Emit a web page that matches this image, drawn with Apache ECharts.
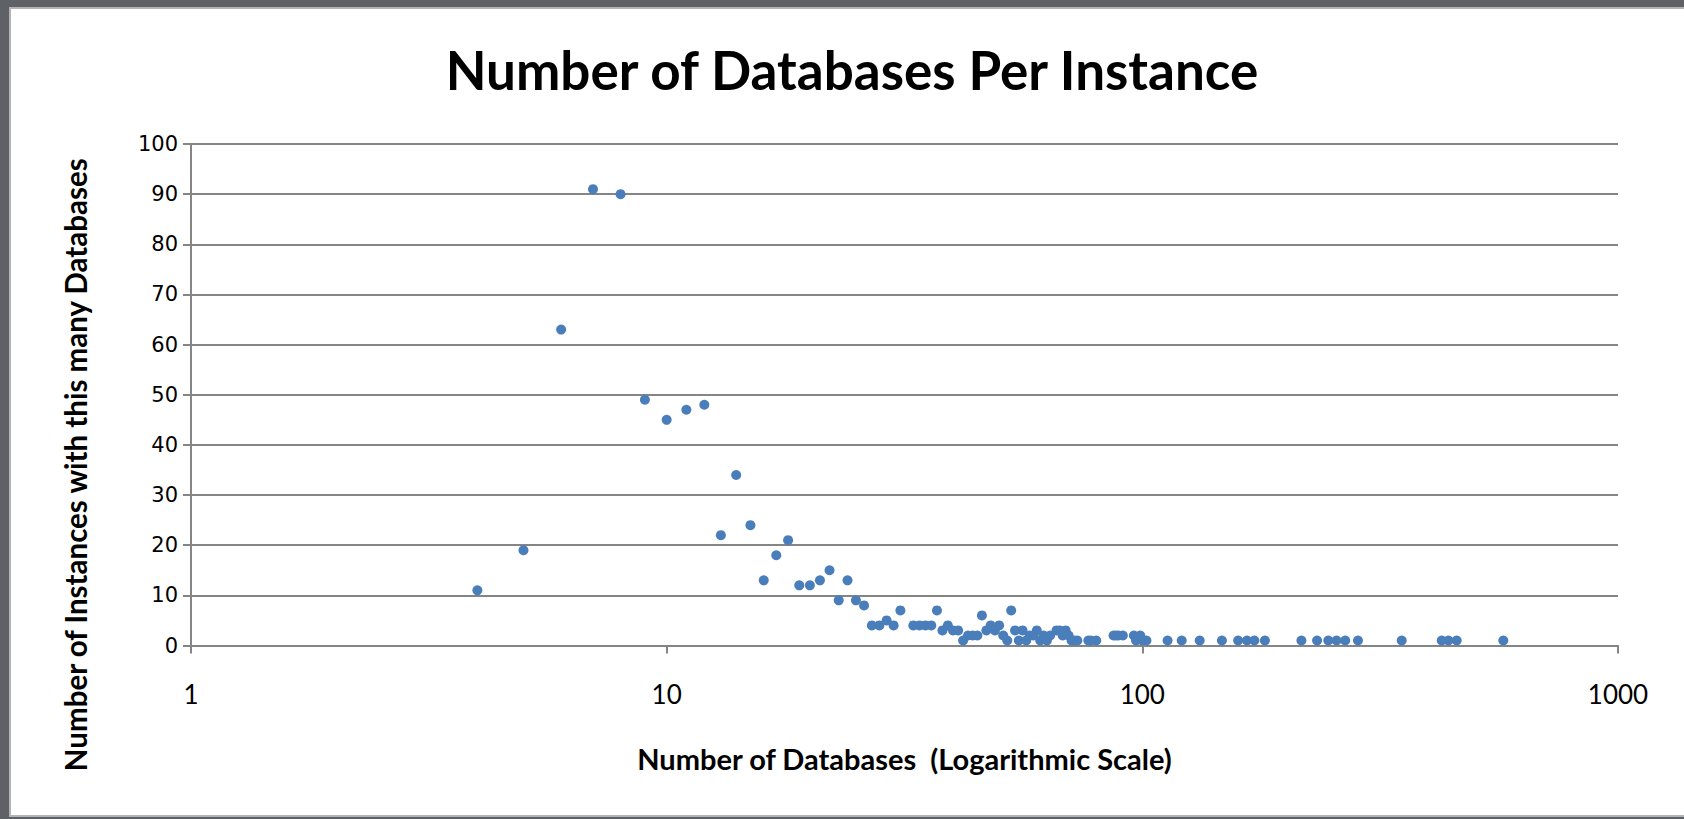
<!DOCTYPE html>
<html>
<head>
<meta charset="utf-8">
<script src="https://cdn.jsdelivr.net/npm/echarts@6/dist/echarts.min.js"></script>
<style>
  html, body { margin: 0; padding: 0; width: 1684px; height: 819px; overflow: hidden; background: #5e6166; }
  #frame { position: absolute; left: 9px; top: 7px; width: 1690px; height: 806px; background: #ffffff; border: 2px solid #b4b4b4; }
  #chart { position: absolute; left: 0; top: 0; width: 1684px; height: 819px; }
</style>
</head>
<body>
<div id="frame"></div>
<div id="chart"></div>
<script>
const chartTitle = 'Number of Databases Per Instance';
const xAxisTitle = 'Number of Databases  (Logarithmic Scale)';
const yAxisTitle = 'Number of Instances with this many Databases';

// Number of databases on an instance (x) and how many instances have that many (y)
const databaseCounts = [
  4, 5, 6, 7, 8, 9, 10, 11, 12, 13, 14, 15, 16, 17, 18, 19, 20, 21, 22, 23, 24, 25, 26,
  27, 28, 29, 30, 31, 33, 34, 35, 36, 37, 38, 39, 40, 41, 42, 43, 44, 45, 46, 47, 48, 49,
  50, 51, 52, 53, 54, 55, 56, 57, 58, 59, 60, 61, 62, 63, 64, 66, 67, 68, 69, 70, 71, 72,
  73, 77, 78, 80, 87, 88, 89, 91, 96, 97, 99, 100, 102, 113, 121, 132, 147, 159, 166, 172,
  181, 216, 233, 246, 256, 267, 284, 351, 426, 440, 458, 574
];
const instanceCounts = [
  11, 19, 63, 91, 90, 49, 45, 47, 48, 22, 34, 24, 13, 18, 21, 12, 12, 13, 15, 9, 13, 9, 8,
  4, 4, 5, 4, 7, 4, 4, 4, 4, 7, 3, 4, 3, 3, 1, 2, 2, 2, 6, 3, 4, 3,
  4, 2, 1, 7, 3, 1, 3, 1, 2, 2, 3, 1, 2, 1, 2, 3, 3, 2, 3, 2, 1, 1,
  1, 1, 1, 1, 2, 2, 2, 2, 2, 1, 2, 1, 1, 1, 1, 1, 1, 1, 1, 1,
  1, 1, 1, 1, 1, 1, 1, 1, 1, 1, 1, 1
];
const xTickLabels = ['1', '10', '100', '1000'];
const yTickLabels = ['0', '10', '20', '30', '40', '50', '60', '70', '80', '90', '100'];

const points = databaseCounts.map((x, i) => [x, instanceCounts[i]]);

const chart = echarts.init(document.getElementById('chart'), null, { renderer: 'svg' });
const gridColor = '#858585';

chart.setOption({
  backgroundColor: 'transparent',
  animation: false,
  title: {
    text: chartTitle,
    left: 847,
    textAlign: 'center',
    top: 38,
    textStyle: { fontFamily: 'Lato', fontWeight: 'bold', fontSize: 53, color: '#000000' }
  },
  grid: { left: 191, right: 66, top: 144, bottom: 173.5, containLabel: false },
  xAxis: {
    type: 'log',
    logBase: 10,
    min: 1,
    max: 1000,
    name: xAxisTitle,
    nameLocation: 'middle',
    nameGap: 98,
    nameTextStyle: { fontFamily: 'Lato', fontWeight: 'bold', fontSize: 29, color: '#000000' },
    axisLine: { show: true, lineStyle: { color: gridColor, width: 2 } },
    axisTick: { show: true, inside: false, length: 8, lineStyle: { color: gridColor, width: 2 } },
    minorTick: { show: false },
    splitLine: { show: false },
    axisLabel: {
      margin: 35,
      fontFamily: 'Lato',
      fontSize: 26,
      color: '#000000',
      formatter: function (v) {
        const idx = Math.round(Math.log10(v));
        return xTickLabels[idx] !== undefined ? xTickLabels[idx] : '';
      }
    }
  },
  yAxis: {
    type: 'value',
    min: 0,
    max: 100,
    interval: 10,
    name: yAxisTitle,
    nameLocation: 'middle',
    nameGap: 101,
    nameRotate: 90,
    nameTextStyle: { fontFamily: 'Lato', fontWeight: 'bold', fontSize: 29.5, color: '#000000', padding: [0, 140, 0, 0] },
    axisLine: { show: true, lineStyle: { color: gridColor, width: 2 } },
    axisTick: { show: true, inside: false, length: 8, lineStyle: { color: gridColor, width: 2 } },
    splitLine: { show: true, lineStyle: { color: gridColor, width: 2 } },
    axisLabel: {
      margin: 13,
      fontFamily: 'DejaVu Sans',
      fontSize: 21,
      color: '#000000',
      formatter: function (v) {
        const idx = Math.round(v / 10);
        return yTickLabels[idx] !== undefined ? yTickLabels[idx] : '';
      }
    }
  },
  series: [{
    type: 'scatter',
    data: points,
    symbol: 'circle',
    symbolSize: 10,
    itemStyle: { color: '#4a7ebb', opacity: 1 }
  }]
});
</script>
</body>
</html>
